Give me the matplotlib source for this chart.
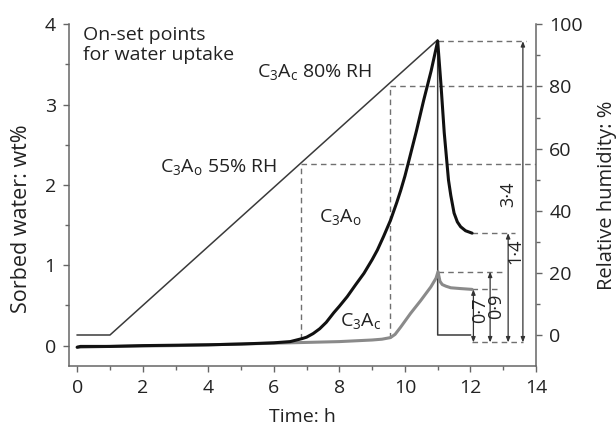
import matplotlib
matplotlib.use("Agg")
import matplotlib.pyplot as plt
from matplotlib.ticker import MultipleLocator

plt.rcParams['font.family'] = ['Open Sans', 'DejaVu Sans']
plt.rcParams['mathtext.default'] = 'regular'

# ---------------- data ----------------
rh_time = [0, 1, 11, 11, 12]
rh_vals = [0, 0, 95, 0, 0]

c3ao_time = [0, 0.1, 1, 2, 3, 4, 5, 6, 6.5, 6.86, 7.0, 7.2, 7.4, 7.6, 7.83,
             8.0, 8.24, 8.5, 8.75, 9.0, 9.16, 9.35, 9.56, 9.75, 9.87, 10.0,
             10.12, 10.35, 10.57, 10.8, 11.0, 11.1, 11.2, 11.33, 11.4, 11.5,
             11.6, 11.7, 11.85, 12.05]
c3ao_water = [-0.02, -0.01, -0.01, 0.0, 0.005, 0.01, 0.02, 0.035, 0.05, 0.087,
              0.105, 0.15, 0.21, 0.29, 0.41, 0.49, 0.61, 0.76, 0.90, 1.07, 1.19,
              1.36, 1.56, 1.78, 1.93, 2.11, 2.30, 2.67, 3.05, 3.42, 3.79, 3.25,
              2.65, 2.06, 1.87, 1.65, 1.54, 1.48, 1.43, 1.40]

c3ac_time = [0, 1, 3, 5, 6, 7, 8, 9, 9.3, 9.56, 9.7, 9.87, 10.17, 10.48, 10.79,
             10.95, 11.01, 11.07, 11.14, 11.25, 11.4, 11.7, 12.05]
c3ac_water = [-0.02, -0.01, 0.0, 0.02, 0.03, 0.04, 0.05, 0.07, 0.08, 0.10, 0.14,
              0.23, 0.40, 0.56, 0.73, 0.84, 0.92, 0.80, 0.76, 0.74, 0.72, 0.71,
              0.70]

onset_ao_time, onset_ao_rh, onset_ao_water = 6.84, 55, 0.087
onset_ac_time, onset_ac_rh, onset_ac_water = 9.54, 80, 0.10
peak_time, peak_rh = 11.0, 95
ao_peak, ao_resid = 3.79, 1.40
ac_peak, ac_resid = 0.92, 0.70
base_level = 0.04
diff_labels = ['0·7', '0·9', '1·4', '3·4']

YL = (-0.25, 4.0)
YR = (-9.88, 100)


def rh_to_w(r):
    return YL[0] + (r - YR[0]) / (YR[1] - YR[0]) * (YL[1] - YL[0])


# ---------------- figure ----------------
fig = plt.figure(figsize=(6.16, 4.26), dpi=100)
ax = fig.add_axes([69 / 616, 60.3 / 426, 467 / 616, 341.4 / 426])
ax2 = ax.twinx()

spine_c = '#666666'
for a in (ax, ax2):
    a.spines['top'].set_visible(False)
    for s in a.spines.values():
        s.set_color(spine_c)
        s.set_linewidth(1.1)
ax.spines['right'].set_visible(False)
ax2.spines['left'].set_visible(False)
ax2.spines['bottom'].set_visible(False)

ax.set_xlim(-0.25, 14)
ax.set_ylim(*YL)
ax2.set_ylim(*YR)

ax.xaxis.set_major_locator(MultipleLocator(2))
ax.xaxis.set_minor_locator(MultipleLocator(1))
ax.yaxis.set_major_locator(MultipleLocator(1))
ax.yaxis.set_minor_locator(MultipleLocator(0.5))
ax2.yaxis.set_major_locator(MultipleLocator(20))
ax2.yaxis.set_minor_locator(MultipleLocator(10))
for a in (ax, ax2):
    a.tick_params(which='major', direction='out', length=4.5, width=1.0,
                  color=spine_c, labelsize=14, labelcolor='#222222', pad=5)
    a.tick_params(which='minor', direction='out', length=3, width=1.0,
                  color=spine_c)

ax.set_xlabel('Time: h', fontsize=14, color='#222222', labelpad=8)
ax.set_ylabel('Sorbed water: wt%', fontsize=15.5, color='#222222')
ax.yaxis.set_label_coords(-0.079, 0.431)
ax2.set_ylabel('Relative humidity: %', fontsize=14.5, color='#222222',
               rotation=90, labelpad=10)

# curves
ax.plot(c3ac_time, c3ac_water, color='#8a8a8a', lw=2.2, solid_capstyle='round',
        solid_joinstyle='round', zorder=3)
ax.plot(c3ao_time, c3ao_water, color='#111111', lw=2.2, solid_capstyle='round',
        solid_joinstyle='round', zorder=4)
ax.plot(rh_time, [rh_to_w(v) for v in rh_vals], color='#3a3a3a', lw=1.1,
        zorder=2)

dash_kw = dict(color='#707070', lw=1.0, linestyle=(0, (4, 3)), zorder=1)
# onset lines
ax.plot([onset_ao_time, onset_ao_time],
        [onset_ao_water, rh_to_w(onset_ao_rh)], **dash_kw)
ax.plot([onset_ao_time, 14], [rh_to_w(onset_ao_rh)] * 2, **dash_kw)
ax.plot([onset_ac_time, onset_ac_time],
        [onset_ac_water, rh_to_w(onset_ac_rh)], **dash_kw)
ax.plot([onset_ac_time, 14], [rh_to_w(onset_ac_rh)] * 2, **dash_kw)
# level lines
ax.plot([peak_time, 13.7], [ao_peak] * 2, **dash_kw)
ax.plot([peak_time, 13.0], [ac_peak] * 2, **dash_kw)
ax.plot([12.05, 12.85], [ac_resid] * 2, **dash_kw)
ax.plot([12.05, 13.35], [ao_resid] * 2, **dash_kw)
ax.plot([12.05, 13.6], [base_level] * 2, **dash_kw)

# difference arrows
arrow_x = [12.09, 12.6, 13.15, 13.6]
arrow_top = [ac_resid, ac_peak, ao_resid, ao_peak]
label_pos = [(12.3, 0.44), (12.79, 0.49), (13.37, 1.17), (13.16, 1.88)]
for xa, top, lab, (lx, ly) in zip(arrow_x, arrow_top, diff_labels, label_pos):
    ax.annotate('', xy=(xa, top), xytext=(xa, base_level),
                arrowprops=dict(arrowstyle='<|-|>,head_length=0.3,head_width=0.12',
                                color='#333333', lw=0.9,
                                shrinkA=0, shrinkB=0), zorder=5)
    ax.text(lx, ly, lab, rotation=90, ha='center', va='center', fontsize=13,
            color='#222222', zorder=6)

# texts
ax.text(0.18, 3.98, 'On-set points\nfor water uptake', ha='left', va='top',
        fontsize=14, color='#222222', linespacing=1.15)
ax.text(5.5, 3.345, r'C$_3$A$_c$ 80% RH', ha='left', va='baseline',
        fontsize=14, color='#222222')
ax.text(2.53, 2.16, r'C$_3$A$_o$ 55% RH', ha='left', va='baseline',
        fontsize=14, color='#222222')
ax.text(8.02, 1.54, r'C$_3$A$_o$', ha='center', va='baseline',
        fontsize=14, color='#222222')
ax.text(8.66, 0.25, r'C$_3$A$_c$', ha='center', va='baseline',
        fontsize=14, color='#222222')

fig.savefig('out.png', dpi=100)
